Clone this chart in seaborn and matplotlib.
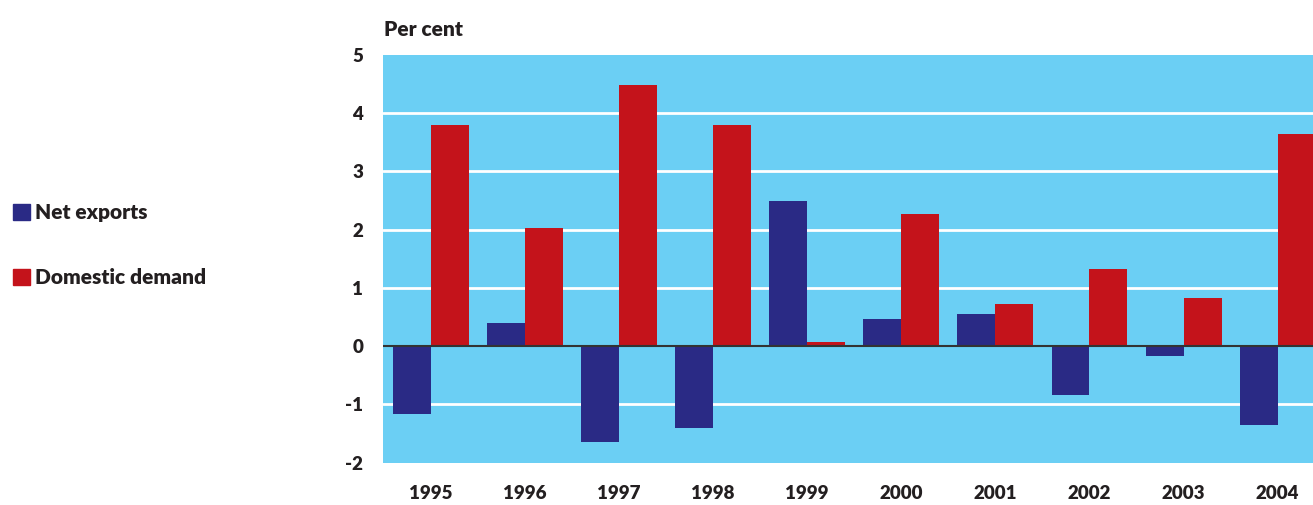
import matplotlib
matplotlib.use("Agg")
import matplotlib.pyplot as plt
import matplotlib.patches as mpatches
import seaborn as sns
import pandas as pd

years = ["1995", "1996", "1997", "1998", "1999", "2000", "2001", "2002", "2003", "2004"]
net_exports = [-1.16, 0.39, -1.65, -1.41, 2.49, 0.46, 0.55, -0.83, -0.16, -1.35]
domestic_demand = [3.79, 2.03, 4.49, 3.79, 0.07, 2.27, 0.73, 1.33, 0.82, 3.64]
series_names = ["Net exports", "Domestic demand"]
y_ticks = [-2, -1, 0, 1, 2, 3, 4, 5]

navy = "#2A2A85"
red = "#C4131B"
bg = "#6BCFF4"
txt = "#231F20"

df = pd.DataFrame({
    "year": years * 2,
    "value": net_exports + domestic_demand,
    "series": [series_names[0]] * len(years) + [series_names[1]] * len(years),
})

sns.set_theme(style="white")
plt.rcParams["font.family"] = ["Lato", "DejaVu Sans"]

fig = plt.figure(figsize=(13.13, 5.05), dpi=100)
ax = fig.add_axes([382.7 / 1313, 1 - 462.7 / 505, 1 - 382.7 / 1313, (462.7 - 55) / 505])
ax.set_facecolor(bg)

sns.barplot(data=df, x="year", y="value", hue="series", order=years,
            hue_order=series_names, palette=[navy, red], width=0.807,
            gap=0, linewidth=0, saturation=1, ax=ax, legend=False, zorder=3)

ax.set_ylim(-2, 5)
ax.set_xlim(-0.51, 9.375)
ax.set_yticks(y_ticks)
ax.set_yticklabels([str(t) for t in y_ticks])
for t in y_ticks:
    if t not in (-2, 5, 0):
        ax.axhline(t, color="white", lw=2, zorder=1)
ax.axhline(0, color="#333333", lw=1.5, zorder=4)
for s in ax.spines.values():
    s.set_visible(False)
ax.tick_params(axis="both", length=0, labelsize=13.5, colors=txt)
ax.tick_params(axis="y", pad=14)
ax.tick_params(axis="x", pad=16)
for lab in ax.get_xticklabels() + ax.get_yticklabels():
    lab.set_fontweight("heavy")
ax.set_xlabel("")
ax.set_ylabel("")
ax.grid(False)

fig.text(384 / 1313, 1 - 29 / 505, "Per cent", fontsize=15, fontweight="heavy",
         color=txt, ha="left", va="center")

handles = [mpatches.Patch(color=navy, label=series_names[0]),
           mpatches.Patch(color=red, label=series_names[1])]
fig.legend(handles=handles, loc="center left", bbox_to_anchor=(-0.004, 1 - 245 / 505),
           frameon=False, handlelength=0.8, handleheight=0.8, handletextpad=0.25,
           labelspacing=2.2, prop={"size": 15, "weight": "heavy"}, labelcolor=txt)

fig.savefig("out.png", dpi=100)
